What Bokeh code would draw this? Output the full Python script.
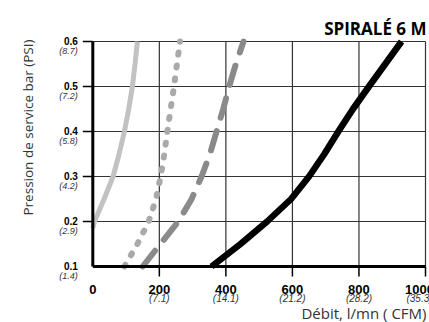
import math
from bokeh.plotting import figure
from bokeh.models import Range1d
from bokeh.core.properties import value
from bokeh.embed import file_html
from bokeh.resources import INLINE

# ---- data ----
x_ticks = [0, 200, 400, 600, 800, 1000]
x_tick_labels = ["0", "200", "400", "600", "800", "1000"]
x_sub_labels = ["", "(7.1)", "(14.1)", "(21.2)", "(28.2)", "(35.3)"]
y_ticks = [0.1, 0.2, 0.3, 0.4, 0.5, 0.6]
y_tick_labels = ["0.1", "0.2", "0.3", "0.4", "0.5", "0.6"]
y_sub_labels = ["(1.4)", "(2.9)", "(4.2)", "(5.8)", "(7.2)", "(8.7)"]

# light grey solid
s1_x = [0, 5, 34, 61, 79, 95, 108, 119, 127, 134]
s1_y = [0.185, 0.2, 0.25, 0.3, 0.35, 0.4, 0.45, 0.5, 0.55, 0.6]
# grey dotted
s2_x = [95, 134, 168, 190, 204, 215, 224, 234, 244, 253, 262]
s2_y = [0.1, 0.15, 0.2, 0.25, 0.3, 0.35, 0.4, 0.45, 0.5, 0.55, 0.6]
# dark grey dashed
s3_x = [150, 203, 257, 297, 327, 352, 372, 392, 410, 430, 453]
s3_y = [0.1, 0.15, 0.2, 0.25, 0.3, 0.35, 0.4, 0.45, 0.5, 0.55, 0.6]
# black solid
s4_x = [357, 444, 524, 596, 650, 696, 738, 782, 830, 879, 928]
s4_y = [0.1, 0.15, 0.2, 0.25, 0.3, 0.35, 0.4, 0.45, 0.5, 0.55, 0.6]

title_text = "SPIRALÉ 6 M"
x_title = "Débit, l/mn ( CFM)"
y_title = "Pression de service bar (PSI)"

LBL_FONT = value("Liberation Sans")
TTL_FONT = value("Open Sans")

# ---- layout: plot area placed in a 429x322 canvas ----
W, H = 429, 322
left_px, right_px, top_px, bottom_px = 92.3, 425.0, 41.0, 266.0
x0, x1 = x_ticks[0], x_ticks[-1]
y0, y1 = y_ticks[0], y_ticks[-1]
xs = (right_px - left_px) / (x1 - x0)
ys = (bottom_px - top_px) / (y1 - y0)
x_range = Range1d(x0 - left_px / xs, x1 + (W - right_px) / xs)
y_range = Range1d(y0 - (H - bottom_px) / ys, y1 + top_px / ys)

p = figure(width=W, height=H, output_backend="svg", toolbar_location=None,
           x_range=x_range, y_range=y_range, x_axis_type=None, y_axis_type=None,
           min_border=0)
p.title.visible = False
p.outline_line_color = None
p.background_fill_color = "white"
p.border_fill_color = "white"

# grid lines (incl. top and right borders)
p.segment(x0=x_ticks[1:], y0=[y0] * 5, x1=x_ticks[1:], y1=[y1] * 5,
          line_color="#333333", line_width=1.2)
p.segment(x0=[x0] * 5, y0=y_ticks[1:], x1=[x1] * 5, y1=y_ticks[1:],
          line_color="#333333", line_width=1.2)

# curves
p.line(s1_x, s1_y, line_color="#c2c2c2", line_width=5)
p.line(s2_x, s2_y, line_color="#a9a9a9", line_width=6, line_dash="2 11", line_cap="round")
p.line(s3_x, s3_y, line_color="#8a8a8a", line_width=6, line_dash="20 14", line_cap="round")
p.line(s4_x, s4_y, line_color="black", line_width=6.5, line_join="round")

# axis lines
p.segment(x0=[x0], y0=[y0], x1=[x0], y1=[y1], line_color="black", line_width=3)
p.segment(x0=[x0], y0=[y0], x1=[x1], y1=[y0], line_color="black", line_width=3)

# tick marks
p.ray(x=[x0] * 5, y=y_ticks[1:], length=10, length_units="screen",
      angle=math.pi, line_color="black", line_width=1.5)
p.ray(x=x_ticks[1:], y=[y0] * 5, length=10, length_units="screen",
      angle=-math.pi / 2, line_color="black", line_width=1.5)

# y tick labels
p.text(x=[x0] * 6, y=y_ticks, text=y_tick_labels, x_offset=-15, y_offset=-1,
       text_align="right", text_baseline="alphabetic", text_font=LBL_FONT,
       text_font_style="bold", text_font_size=value("10px"), text_color="black")
p.text(x=[x0] * 6, y=y_ticks, text=y_sub_labels, x_offset=-15, y_offset=4,
       text_align="right", text_baseline="top", text_font=LBL_FONT,
       text_font_style="italic", text_font_size=value("9px"), text_color="#333333")

# x tick labels
x_offs = [-6 if v == x1 else 0 for v in x_ticks]
p.text(x=x_ticks, y=[y0] * 6, text=x_tick_labels, x_offset=x_offs, y_offset=23,
       text_align="center", text_baseline="alphabetic", text_font=LBL_FONT,
       text_font_style="bold", text_font_size=value("13px"), text_color="black")
p.text(x=x_ticks[1:], y=[y0] * 5, text=x_sub_labels[1:], x_offset=x_offs[1:], y_offset=32,
       text_align="center", text_baseline="alphabetic", text_font=LBL_FONT,
       text_font_style="italic", text_font_size=value("10px"), text_color="#333333")

# titles
p.text(x=[x1], y=[y1], text=[title_text], x_offset=1, y_offset=-13,
       text_align="right", text_baseline="alphabetic", text_font=TTL_FONT,
       text_font_style="bold", text_font_size=value("17px"), text_color="black")
p.text(x=[x1], y=[y0], text=[x_title], x_offset=1, y_offset=46,
       text_align="right", text_baseline="alphabetic", text_font=TTL_FONT,
       text_font_size=value("15px"), text_color="#333333")
p.text(x=[x0], y=[y1], text=[y_title], x_offset=-65, y_offset=86, angle=math.pi / 2,
       text_align="center", text_baseline="alphabetic", text_font=TTL_FONT,
       text_font_size=value("13.5px"), text_color="#333333")

open("out.html", "w").write(file_html(p, INLINE))
